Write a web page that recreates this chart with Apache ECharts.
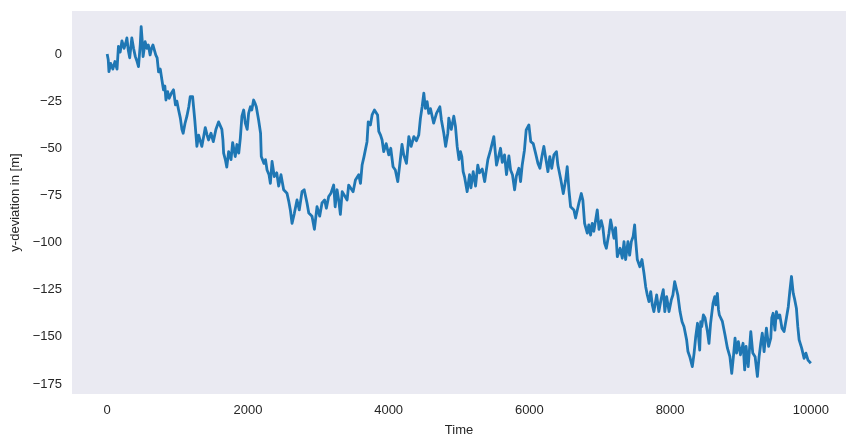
<!DOCTYPE html>
<html>
<head>
<meta charset="utf-8">
<script src="https://cdn.jsdelivr.net/npm/echarts@6/dist/echarts.min.js"></script>
<style>
html,body{margin:0;padding:0;background:#fff;}
#c{width:855px;height:448px;}
</style>
</head>
<body>
<div id="c"></div>
<script>
const times = [0,15,25,50,80,110,140,160,185,210,240,265,280,300,320,350,375,400,425,445,470,483,500,510,540,565,585,610,630,650,690,710,730,755,778,800,820,835,860,880,910,943,970,990,1015,1040,1062,1080,1105,1133,1160,1180,1214,1245,1275,1300,1320,1345,1370,1394,1420,1440,1475,1508,1545,1583,1607,1630,1645,1655,1679,1700,1726,1760,1783,1820,1844,1870,1892,1915,1940,1963,1990,2010,2035,2055,2081,2100,2119,2152,2180,2190,2228,2250,2272,2300,2319,2343,2375,2410,2437,2470,2508,2555,2580,2603,2627,2660,2698,2730,2769,2800,2840,2865,2911,2945,2982,3020,3053,3090,3115,3148,3180,3219,3240,3267,3290,3314,3340,3366,3410,3432,3457,3495,3528,3575,3600,3623,3650,3670,3693,3710,3741,3765,3798,3825,3843,3860,3885,3907,3930,3965,4002,4030,4063,4095,4130,4160,4190,4215,4253,4287,4320,4358,4395,4428,4452,4476,4500,4522,4547,4570,4595,4618,4640,4680,4728,4750,4784,4810,4841,4855,4890,4926,4950,4974,5000,5021,5040,5059,5078,5090,5116,5150,5170,5202,5235,5267,5290,5330,5365,5390,5410,5448,5495,5533,5565,5590,5615,5647,5675,5709,5733,5760,5790,5815,5851,5875,5898,5930,5955,5993,6020,6055,6088,6122,6150,6180,6206,6235,6264,6290,6318,6349,6385,6405,6444,6482,6515,6538,6562,6586,6633,6657,6704,6738,6760,6785,6823,6845,6870,6893,6916,6965,6990,7022,7045,7070,7094,7131,7155,7180,7203,7225,7250,7290,7321,7345,7368,7401,7425,7449,7475,7496,7510,7534,7570,7600,7629,7653,7676,7700,7725,7747,7770,7809,7840,7875,7903,7925,7951,7985,8017,8040,8065,8088,8110,8141,8170,8198,8235,8254,8280,8316,8340,8364,8390,8410,8421,8435,8450,8473,8497,8510,8530,8553,8575,8610,8635,8650,8672,8688,8700,8743,8780,8815,8850,8876,8900,8923,8945,8970,9000,9037,9060,9080,9110,9147,9175,9208,9241,9265,9289,9310,9336,9369,9400,9431,9445,9464,9490,9511,9535,9559,9590,9620,9653,9680,9701,9725,9750,9772,9795,9815,9834,9870,9905,9930,9960,10000];
const yDeviation = [0,-3,-9.4,-5,-8,-4,-8,4,1,7,3,6,8.5,2,-2,8.5,3,-1.4,-4,-6.7,5,14.5,6,-1.4,6.5,3,4.8,-0.5,3,4.8,-0.5,-2,-9.5,-8,-13.8,-19,-17,-24.4,-20,-23.5,-21,-19,-27,-25,-29.7,-34,-40,-42,-37,-33,-28,-22.6,-22.6,-35,-49,-43,-42,-49,-44,-39,-43,-45.6,-42,-46.5,-40,-36,-36.7,-40,-45.6,-52.6,-56,-60,-51.8,-56,-47,-54.4,-48,-52.6,-44.7,-33,-29.7,-36.7,-40,-31.5,-28,-29.7,-24.4,-26,-28,-35,-42,-54.4,-58,-56,-61.5,-64,-68.6,-57,-65,-63,-70,-64,-72,-73.8,-78,-82.7,-89.8,-84.5,-77.4,-82.7,-73,-72,-79,-84.3,-86,-93,-81,-86,-79,-77.4,-81.8,-75.6,-73.8,-69.5,-81,-72,-77.4,-85,-73,-72,-77.4,-69.5,-68.6,-73,-66.8,-64,-68.6,-58.9,-54.4,-55,-46.5,-36,-37.6,-32.3,-29.7,-28.8,-32.3,-41,-43,-45.6,-51.8,-47.5,-53.5,-50,-59.8,-61.5,-67.7,-58,-48,-53.5,-58,-43.8,-49,-43.8,-46,-43,-34,-28,-20.8,-28.8,-25.3,-31.5,-29,-30,-36.7,-31.5,-28,-35,-42,-49,-42,-34,-40,-33,-38.5,-49,-56,-51.8,-54.4,-62.4,-65,-64,-73,-64,-71,-62.4,-70,-58.9,-63,-61,-67.7,-67.7,-56,-51,-43.8,-58.9,-54,-50,-57.5,-53.5,-64,-54,-61.5,-64,-72,-64.8,-60.6,-67.7,-59,-51,-40.3,-37.6,-46.5,-47.5,-52.6,-58,-60.6,-54,-49,-55.8,-62.4,-54.4,-60.6,-53.5,-51.8,-58.9,-66,-74,-67,-59.8,-72,-81,-82.7,-87,-79,-74,-77.4,-89.8,-95,-90.6,-96,-89.8,-94,-82.7,-93,-88.4,-92.1,-100.4,-103,-95,-88,-93,-97.7,-92.1,-107.5,-103,-108.3,-99.5,-109,-99.5,-106.7,-99.5,-96.8,-90.6,-98.6,-109,-112.8,-109,-116.3,-123.4,-127.8,-131.3,-126,-133,-136.6,-127.8,-136.6,-129.5,-125,-136.6,-128.7,-136.6,-130.4,-127.8,-120.7,-119.8,-127.8,-136.6,-142,-144.6,-151.6,-157.8,-160.5,-165.8,-159,-150,-142.8,-152.5,-157,-142,-144.6,-138.4,-140,-142.8,-147,-153.4,-143,-132.2,-128.7,-133,-126.9,-135.7,-138.4,-141.8,-148.9,-156,-160.5,-169.3,-160.5,-150.7,-158.6,-152.5,-159.5,-153.4,-167.5,-155,-165.8,-147.2,-158.6,-160.5,-171,-160.5,-153.4,-148,-157.8,-145.4,-155,-150.7,-140,-137.5,-146.4,-136.6,-140,-138.4,-145.4,-147.2,-140,-134,-126,-118,-126.9,-130.4,-134.8,-144.6,-151.6,-156,-161.4,-158.6,-162.3,-164];
const xTicks = [0,2000,4000,6000,8000,10000];
const yTicks = [-175,-150,-125,-100,-75,-50,-25,0];

const data = times.map((t, i) => [t, yDeviation[i]]);
const fmt = v => String(v).replace('-', '\u2212');
const font = "'Liberation Sans', Arial, sans-serif";
const chart = echarts.init(document.getElementById('c'), null, {renderer: 'canvas'});
chart.setOption({
  animation: false,
  backgroundColor: '#ffffff',
  grid: {left: 72, right: 9, top: 11, bottom: 54, show: true, backgroundColor: '#EAEAF2', borderWidth: 0},
  xAxis: {
    type: 'value', min: -500, max: 10500,
    name: 'Time', nameLocation: 'middle', nameGap: 30,
    nameTextStyle: {color: '#262626', fontSize: 13, fontFamily: font},
    axisLine: {show: false}, axisTick: {show: false}, splitLine: {show: false},
    axisLabel: {customValues: xTicks, color: '#262626', fontSize: 13, fontFamily: font, margin: 10, formatter: fmt}
  },
  yAxis: {
    type: 'value', min: -180.3, max: 22.8,
    name: 'y-deviation in [m]', nameLocation: 'middle', nameGap: 48,
    nameTextStyle: {color: '#262626', fontSize: 13, fontFamily: font},
    axisLine: {show: false}, axisTick: {show: false}, splitLine: {show: false},
    axisLabel: {customValues: yTicks, color: '#262626', fontSize: 13, fontFamily: font, margin: 10, formatter: fmt}
  },
  series: [{
    type: 'line', data: data, showSymbol: false, symbol: 'none',
    lineStyle: {color: '#1f77b4', width: 2.8, join: 'round'}, itemStyle: {color: '#1f77b4'}
  }]
});
</script>
</body>
</html>
